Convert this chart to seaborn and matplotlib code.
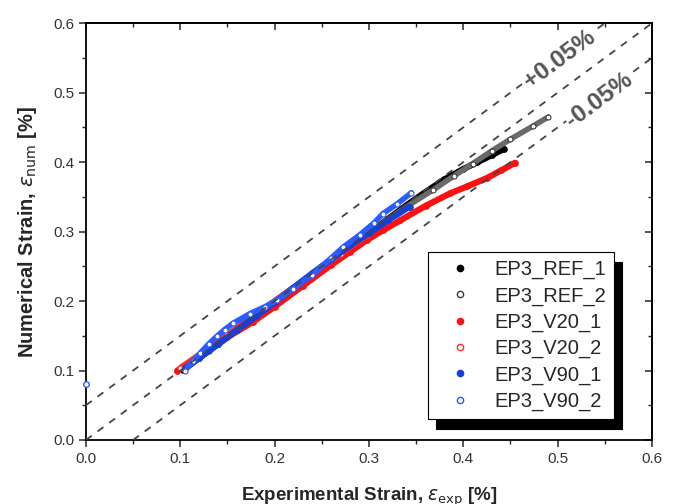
"""
plot.py
-------
Deformación numérica vs. experimental (EP3) con bandas de +/-0.05 %.
"""

import matplotlib
matplotlib.use("Agg")
import matplotlib.pyplot as plt
from matplotlib.lines import Line2D
from matplotlib.ticker import MultipleLocator
import pandas as pd
import seaborn as sns

# ----------------------------------------------------------------------
# Datos (deformación en %)
# ----------------------------------------------------------------------
ref1_x = [0.103, 0.12, 0.14, 0.16, 0.18, 0.20, 0.22, 0.24, 0.26, 0.28, 0.30, 0.32,
          0.34, 0.36, 0.38, 0.40, 0.415, 0.43, 0.443]
ref1_y = [0.101, 0.118, 0.138, 0.158, 0.178, 0.199, 0.219, 0.239, 0.259, 0.279, 0.298, 0.318,
          0.338, 0.357, 0.375, 0.390, 0.400, 0.410, 0.419]

ref2_x = [0.105, 0.13, 0.16, 0.19, 0.22, 0.25, 0.28, 0.31, 0.34, 0.368, 0.39, 0.41,
          0.43, 0.45, 0.474, 0.49]
ref2_y = [0.103, 0.128, 0.158, 0.188, 0.219, 0.249, 0.279, 0.308, 0.336, 0.360, 0.380, 0.398,
          0.416, 0.433, 0.452, 0.465]

v20_1_x = [0.097, 0.11, 0.13, 0.15, 0.177, 0.20, 0.23, 0.26, 0.28, 0.298, 0.315, 0.333,
           0.36, 0.386, 0.404, 0.425, 0.44, 0.455]
v20_1_y = [0.100, 0.112, 0.130, 0.148, 0.170, 0.192, 0.222, 0.252, 0.271, 0.288, 0.302, 0.316,
           0.337, 0.355, 0.365, 0.377, 0.388, 0.399]

v20_2_x = [0.100, 0.12, 0.15, 0.18, 0.21, 0.24, 0.27, 0.30]
v20_2_y = [0.104, 0.123, 0.152, 0.181, 0.210, 0.239, 0.268, 0.296]

v90_1_x = [0.105, 0.12, 0.14, 0.16, 0.18, 0.20, 0.22, 0.24, 0.26, 0.28, 0.30, 0.32, 0.343]
v90_1_y = [0.103, 0.118, 0.138, 0.158, 0.178, 0.198, 0.219, 0.240, 0.260, 0.280, 0.298, 0.316, 0.336]

v90_2_x = [0.105, 0.113, 0.121, 0.13, 0.1385, 0.147, 0.156, 0.174, 0.19, 0.202, 0.22, 0.24,
           0.26, 0.273, 0.29, 0.305, 0.315, 0.33, 0.345]
v90_2_y = [0.100, 0.113, 0.125, 0.138, 0.149, 0.159, 0.168, 0.182, 0.192, 0.201, 0.218, 0.238,
           0.262, 0.278, 0.295, 0.312, 0.326, 0.340, 0.356]
v90_2_suelto_x = [0.0]
v90_2_suelto_y = [0.081]

nombres = ["EP3_REF_1", "EP3_REF_2", "EP3_V20_1", "EP3_V20_2", "EP3_V90_1", "EP3_V90_2"]
colores = ["#000000", "#3a3a3a", "#ff1010", "#ff2a2a", "#1440d8", "#2a5cff"]
rellenos = [True, False, True, False, True, False]

bandas = [0.05, 0.0, -0.05]          # y = x + banda
limite = 0.6

# ----------------------------------------------------------------------
# Figura
# ----------------------------------------------------------------------
sns.set_style("ticks")
plt.rcParams["font.family"] = ["Liberation Sans", "DejaVu Sans"]
plt.rcParams["mathtext.fontset"] = "dejavusans"

fig = plt.figure(figsize=(6.82, 5.04), dpi=100)
ax = fig.add_axes([0.126, 0.127, 0.830, 0.827])

datos = [(ref1_x, ref1_y), (ref2_x, ref2_y), (v20_1_x, v20_1_y),
         (v20_2_x, v20_2_y), (v90_1_x, v90_1_y), (v90_2_x, v90_2_y)]

for (xs, ys), nombre, color, relleno in zip(datos, nombres, colores, rellenos):
    df = pd.DataFrame({"exp": xs, "num": ys})
    if relleno:
        sns.lineplot(data=df, x="exp", y="num", ax=ax, sort=False, estimator=None,
                     color=color, lw=4.5, marker="o", ms=4, mfc=color, mec=color,
                     mew=0.8, legend=False)
    else:
        linea = "#6a6a6a" if color == colores[1] else color
        sns.lineplot(data=df, x="exp", y="num", ax=ax, sort=False, estimator=None,
                     color=linea, lw=4.0, marker="o", ms=3.6, mfc="white", mec=color,
                     mew=0.8, legend=False)

df_suelto = pd.DataFrame({"exp": v90_2_suelto_x, "num": v90_2_suelto_y})
sns.scatterplot(data=df_suelto, x="exp", y="num", ax=ax, marker="o", s=16,
                facecolor="white", edgecolor=colores[5], linewidth=1.0, clip_on=False,
                zorder=5, legend=False)

# líneas de referencia y = x y +/- 0.05 %
for b in bandas:
    x0 = max(0.0, -b)
    x1 = min(limite, limite - b)
    ax.plot([x0, x1], [x0 + b, x1 + b], ls=(0, (4, 4)), color="#444444", lw=1.3, zorder=6)

caja = dict(facecolor="white", edgecolor="none", pad=0.5)
ax.text(0.502, 0.548, "+0.05%", rotation=36.4, ha="center", va="center",
        fontsize=17.5, fontweight="bold", color="#555555", rotation_mode="anchor",
        bbox=caja, zorder=7)
ax.text(0.544, 0.490, "-0.05%", rotation=36.4, ha="center", va="center",
        fontsize=17.5, fontweight="bold", color="#555555", rotation_mode="anchor",
        bbox=caja, zorder=7)

ax.set_xlim(0, limite)
ax.set_ylim(0, limite)
ax.xaxis.set_major_locator(MultipleLocator(0.1))
ax.yaxis.set_major_locator(MultipleLocator(0.1))
ax.xaxis.set_minor_locator(MultipleLocator(0.05))
ax.yaxis.set_minor_locator(MultipleLocator(0.05))
ax.tick_params(which="major", length=5, width=1.1, direction="out", labelsize=11,
               labelcolor="#333333")
ax.tick_params(which="minor", length=3, width=1.0, direction="out")
ax.set_xticklabels([f"{v:.1f}" for v in ax.get_xticks()])
ax.set_yticklabels([f"{v:.1f}" for v in ax.get_yticks()])

for lado in ["top", "right"]:
    ax.spines[lado].set_visible(True)
for sp in ax.spines.values():
    sp.set_linewidth(1.3)
    sp.set_color("black")

sec_x = ax.secondary_xaxis("top")
sec_y = ax.secondary_yaxis("right")
for sec in (sec_x, sec_y):
    eje = sec.xaxis if sec is sec_x else sec.yaxis
    eje.set_major_locator(MultipleLocator(0.1))
    eje.set_minor_locator(MultipleLocator(0.05))
    sec.tick_params(which="major", length=5, width=1.1, direction="in")
    sec.tick_params(which="minor", length=3, width=1.0, direction="in")
    sec.tick_params(labeltop=False, labelright=False)
    for sp in sec.spines.values():
        sp.set_linewidth(1.3)

ax.set_xlabel(r"Experimental Strain, $\varepsilon_{\mathrm{exp}}$ [%]",
              fontsize=13.5, fontweight="bold", labelpad=14)
ax.set_ylabel(r"Numerical Strain, $\varepsilon_{\mathrm{num}}$ [%]",
              fontsize=14.5, fontweight="bold", labelpad=10)

manejadores = [Line2D([], [], ls="none", marker="o", ms=4.5, color=c,
                      mfc=c if r else "white", mec=c, mew=1.0)
               for c, r in zip(colores, rellenos)]
leg = ax.legend(manejadores, nombres, loc="upper left", bbox_to_anchor=(0.604, 0.451),
                borderaxespad=0, fontsize=14.5, labelspacing=0.35, handlelength=2.4,
                handletextpad=0.5, borderpad=0.4, fancybox=False, framealpha=1,
                edgecolor="black",
                shadow={"ox": 6, "oy": -7, "color": "black", "alpha": 1})
leg.get_frame().set_linewidth(0.8)

fig.savefig("out.png", dpi=100)
